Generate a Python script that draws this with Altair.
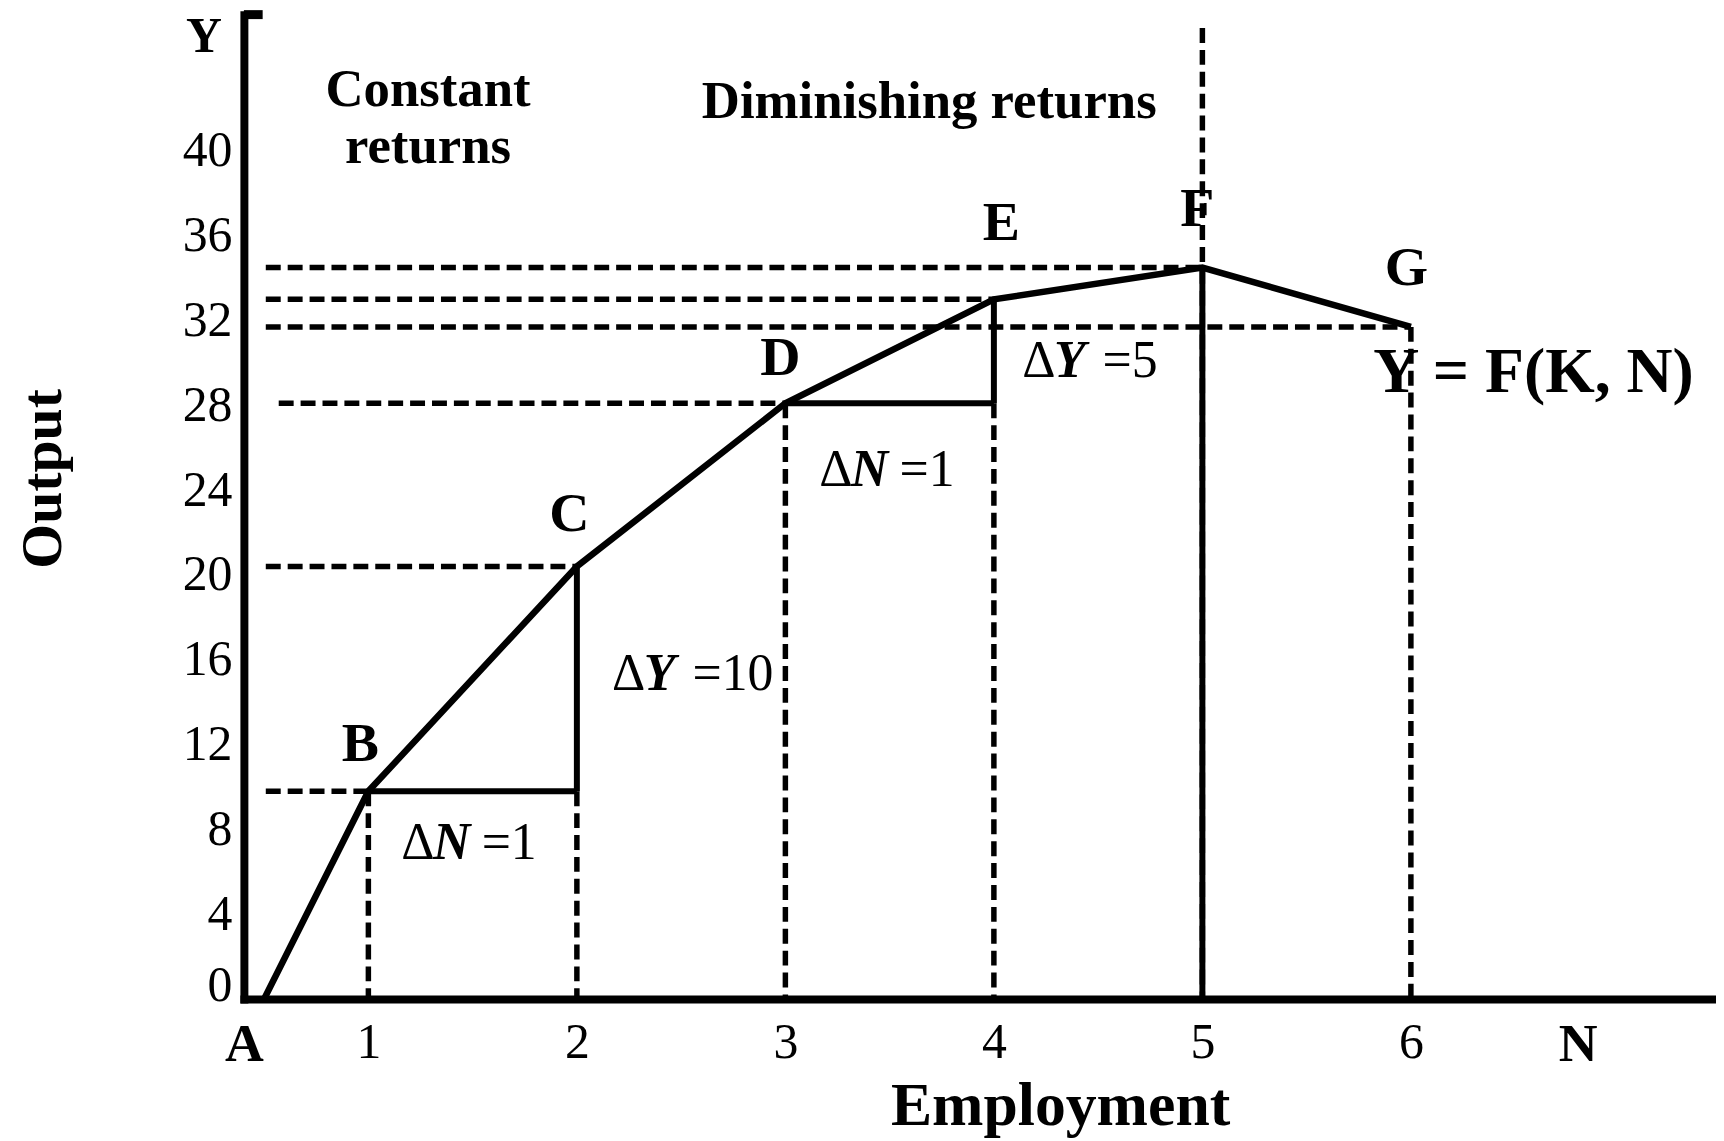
import altair as alt
import pandas as pd

FONT = "Liberation Serif"

# ---- data ----
pt_label = ["A", "B", "C", "D", "E", "F", "G"]
pt_x = [0.5, 1, 2, 3, 4, 5, 6]
pt_y = [0, 9.8, 20.4, 28.1, 33.0, 34.5, 31.7]

x_tick_values = [1, 2, 3, 4, 5, 6]
y_tick_values = [0, 4, 8, 12, 16, 20, 24, 28, 32, 36, 40]

X_MIN, X_MAX = 0.403, 7.449
Y_MIN, Y_MAX = 0, 46.43
A_POS, N_POS = 0.403, 6.80

# annotation anchors (data coordinates)
lbl_text = ["B", "C", "D", "E", "F", "G"]
lbl_x = [0.962, 1.964, 2.976, 4.036, 4.976, 5.979]
lbl_y = [12.02, 22.86, 30.23, 36.62, 37.28, 34.46]

region_text = ["Constant", "returns", "Diminishing returns"]
region_x = [1.286, 1.286, 3.69]
region_y = [42.86, 40.19, 42.30]

delta_sym = ["N", "Y", "N", "Y"]
delta_rest = ["=1", "=10", "=1", "=5"]
delta_x = [1.158, 2.169, 3.162, 4.136]
delta_y = [7.37, 15.31, 24.93, 30.09]

P = dict(zip(pt_label, zip(pt_x, pt_y)))

# ---- tables built from the lists ----
curve = pd.DataFrame({"x": pt_x, "y": pt_y, "lab": pt_label})

h_start = {"B": 0.508, "C": 0.508, "D": 0.57, "E": 0.508, "F": 0.508, "G": 0.508}
dash_h = pd.DataFrame({
    "x": [h_start[k] for k in h_start],
    "x2": [P[k][0] for k in h_start],
    "y": [P[k][1] for k in h_start],
})
dash_v = pd.DataFrame({
    "x": [P["B"][0], P["C"][0], P["D"][0], P["E"][0], P["F"][0], P["G"][0]],
    "y": [P["B"][1], P["B"][1], P["D"][1], P["D"][1], 45.8, P["G"][1]],
    "y2": [0, 0, 0, 0, 0, 0],
})
solid_h = pd.DataFrame({
    "x": [P["B"][0], P["D"][0]],
    "x2": [P["C"][0], P["E"][0]],
    "y": [P["B"][1], P["D"][1]],
})
solid_v = pd.DataFrame({
    "x": [P["C"][0], P["E"][0], P["F"][0]],
    "y": [P["B"][1], P["D"][1], P["F"][1]],
    "y2": [P["C"][1], P["E"][1], 0],
})
labels = pd.DataFrame({"t": lbl_text, "x": lbl_x, "y": lbl_y})
regions = pd.DataFrame({"t": region_text, "x": region_x, "y": region_y})
deltas = pd.DataFrame({"sym": delta_sym, "rest": delta_rest, "x": delta_x, "y": delta_y})
hook = pd.DataFrame({"x": [X_MIN], "x2": [0.493], "y": [Y_MAX]})
yletter = pd.DataFrame({"t": ["Y"], "x": [0.212], "y": [45.35]})
func = pd.DataFrame({"t": ["Y = F(K, N)"], "x": [6.588], "y": [29.53]})

xs = alt.Scale(domain=[X_MIN, X_MAX], nice=False, zero=False)
ys = alt.Scale(domain=[Y_MIN, Y_MAX], nice=False, zero=False)

x_axis = alt.Axis(
    values=[A_POS] + x_tick_values + [N_POS],
    labelExpr="datum.value < 0.9 ? 'A' : (datum.value > 6.5 ? 'N' : format(datum.value, 'd'))",
    labelFontWeight={"condition": {"test": "datum.value < 0.9 || datum.value > 6.5", "value": "bold"}, "value": "normal"},
    labelFontSize={"condition": {"test": "datum.value < 0.9 || datum.value > 6.5", "value": 54}, "value": 50},
    labelFlush=False,
    labelOverlap=False,
    labelPadding=19,
    ticks=False,
    tickSize=0,
    grid=False,
    domainColor="black",
    domainWidth=8,
    domainCap="square",
    title="Employment",
    titleFontSize=62,
    titleFontWeight="bold",
    titleX=820,
    titleY=126,
    titleBaseline="alphabetic",
    titleAlign="center",
)
y_axis = alt.Axis(
    values=y_tick_values,
    labelFontSize=50,
    labelPadding=12,
    labelOffset={"condition": {"test": "datum.value === 0", "value": -14}, "value": 0},
    labelOverlap=False,
    labelBaseline="middle",
    ticks=False,
    tickSize=0,
    grid=False,
    domainColor="black",
    domainWidth=8,
    domainCap="square",
    title="Output",
    titleFontSize=58,
    titleFontWeight="bold",
    titleAngle=270,
    titleX=-184,
    titleY=466,
    titleBaseline="alphabetic",
    titleAlign="center",
)

base_line = alt.Chart(curve).mark_line(color="black", strokeWidth=6.5, strokeJoin="miter").encode(
    x=alt.X("x:Q", scale=xs, axis=x_axis),
    y=alt.Y("y:Q", scale=ys, axis=y_axis),
    order="x:Q",
)

DASH = [15, 7]
dh = alt.Chart(dash_h).mark_rule(color="black", strokeWidth=5.5, strokeDash=DASH).encode(
    x=alt.X("x:Q", scale=xs), x2="x2:Q", y=alt.Y("y:Q", scale=ys))
dv = alt.Chart(dash_v).mark_rule(color="black", strokeWidth=5.5, strokeDash=DASH).encode(
    x=alt.X("x:Q", scale=xs), y=alt.Y("y:Q", scale=ys), y2="y2:Q")
sh = alt.Chart(solid_h).mark_rule(color="black", strokeWidth=6).encode(
    x=alt.X("x:Q", scale=xs), x2="x2:Q", y=alt.Y("y:Q", scale=ys))
sv = alt.Chart(solid_v).mark_rule(color="black", strokeWidth=6).encode(
    x=alt.X("x:Q", scale=xs), y=alt.Y("y:Q", scale=ys), y2="y2:Q")
hk = alt.Chart(hook).mark_rule(color="black", strokeWidth=9).encode(
    x=alt.X("x:Q", scale=xs), x2="x2:Q", y=alt.Y("y:Q", scale=ys))

pt_text = alt.Chart(labels).mark_text(font=FONT, fontSize=56, fontWeight="bold", baseline="middle", align="center").encode(
    x=alt.X("x:Q", scale=xs), y=alt.Y("y:Q", scale=ys), text="t:N")
reg_text = alt.Chart(regions).mark_text(font=FONT, fontSize=53, fontWeight="bold", baseline="middle", align="center").encode(
    x=alt.X("x:Q", scale=xs), y=alt.Y("y:Q", scale=ys), text="t:N")
y_text = alt.Chart(yletter).mark_text(font=FONT, fontSize=50, fontWeight="bold", baseline="middle", align="center").encode(
    x=alt.X("x:Q", scale=xs), y=alt.Y("y:Q", scale=ys), text="t:N")
f_text = alt.Chart(func).mark_text(font=FONT, fontSize=64, fontWeight="bold", baseline="middle", align="center").encode(
    x=alt.X("x:Q", scale=xs), y=alt.Y("y:Q", scale=ys), text="t:N")

DS = 52
d1 = alt.Chart(deltas).mark_text(font=FONT, fontSize=DS, baseline="middle", align="left").encode(
    x=alt.X("x:Q", scale=xs), y=alt.Y("y:Q", scale=ys), text=alt.value("Δ"))
d2 = alt.Chart(deltas).mark_text(font=FONT, fontSize=DS, fontWeight="bold", fontStyle="italic",
                                 baseline="middle", align="left", dx=0.612 * DS).encode(
    x=alt.X("x:Q", scale=xs), y=alt.Y("y:Q", scale=ys), text="sym:N")
d3 = alt.Chart(deltas).mark_text(font=FONT, fontSize=DS, baseline="middle", align="left",
                                 dx=(0.612 + 0.69 + 0.25) * DS).encode(
    x=alt.X("x:Q", scale=xs), y=alt.Y("y:Q", scale=ys), text="rest:N")

chart = alt.layer(
    dh, dv, sh, sv, base_line, hk, pt_text, reg_text, y_text, f_text, d1, d2, d3
).properties(
    width=1476,
    height=989,
    autosize=alt.AutoSizeParams(type="none"),
    padding={"left": 237, "top": 4, "right": 3, "bottom": 140},
    background="white",
).configure_view(
    stroke=None
).configure_axis(
    labelFont=FONT,
    titleFont=FONT,
    labelColor="black",
    titleColor="black",
).configure_text(
    color="black"
)

chart.save("out.html", embed_options={"renderer": "svg", "actions": False})
